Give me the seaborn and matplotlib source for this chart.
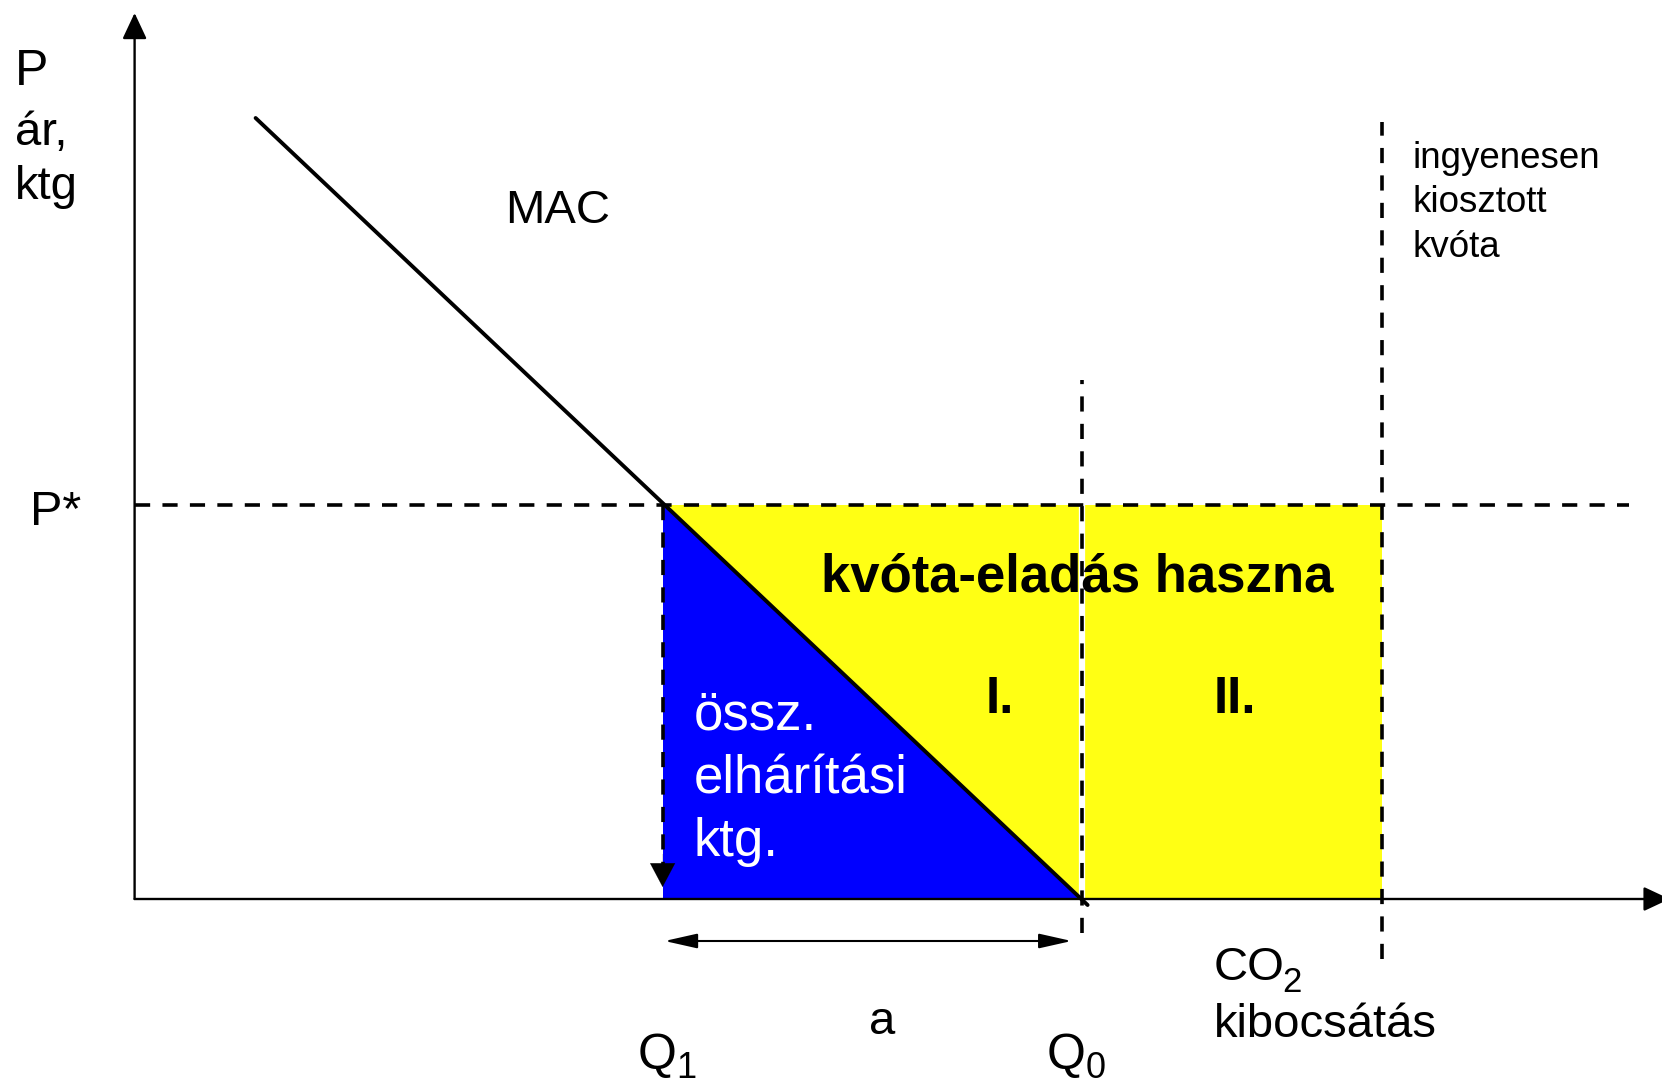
import matplotlib
matplotlib.use("Agg")
import matplotlib.pyplot as plt
import seaborn as sns

# CO2 kibocsátás (x) és ár / költség (y) egységei, origó a tengelyek metszéspontja
Q1 = 5.28
Q0 = 9.47
Q_FREE = 12.47
P_STAR = 3.94
X_MAX = 15.27
Y_MAX = 8.86

# MAC görbe végpontjai
mac_x = [1.21, 9.53]
mac_y = [7.81, -0.06]

BLUE = "#0000FF"
YELLOW = "#FFFF14"
FONT = "Liberation Sans"

sns.set_theme(style="white")
plt.rcParams["font.family"] = [FONT, "DejaVu Sans"]

fig = plt.figure(figsize=(16.62, 10.86), dpi=100)
ax = fig.add_axes([0, 0, 1, 1])
ax.set_xlim(-1.346, 15.274)
ax.set_ylim(-1.87, 8.99)
ax.axis("off")

# területek
ax.fill([Q1, Q_FREE, Q_FREE, Q0], [P_STAR, P_STAR, 0, 0], color=YELLOW, lw=0, zorder=1)
ax.fill([Q1, Q1, Q0], [P_STAR, 0, 0], color=BLUE, lw=0, zorder=2)

dash = (0, (4.2, 3.4))
lw_d = 2.6

# P* szaggatott vonal
ax.plot([0, 14.94], [P_STAR, P_STAR], color="black", lw=lw_d, ls=dash, zorder=4)
# Q0 és ingyenes kvóta függőleges vonalai
ax.plot([Q0, Q0], [0, P_STAR], color="white", lw=4.5, zorder=3)
ax.plot([Q0, Q0], [-0.34, 5.19], color="black", lw=lw_d, ls=dash, zorder=4)
ax.plot([Q_FREE, Q_FREE], [-0.60, 7.77], color="black", lw=lw_d, ls=dash, zorder=4)
# Q1 lefelé mutató nyíl
ax.plot([Q1, Q1], [P_STAR, 0.35], color="black", lw=lw_d, ls=dash, zorder=4)
ax.annotate("", xy=(Q1, 0.12), xytext=(Q1, 0.45),
            arrowprops=dict(arrowstyle="-|>,head_length=1.7,head_width=0.9",
                            mutation_scale=10, color="black", lw=0.1,
                            shrinkA=0, shrinkB=0), zorder=5)

# MAC
sns.lineplot(x=mac_x, y=mac_y, ax=ax, color="black", lw=2.8, zorder=5)

# tengelyek
ax.annotate("", xy=(0, Y_MAX), xytext=(0, 0), annotation_clip=False,
            arrowprops=dict(arrowstyle="-|>,head_length=1.6,head_width=0.75",
                            mutation_scale=10, color="black", lw=1.7,
                            shrinkA=0, shrinkB=0), zorder=6)
ax.annotate("", xy=(X_MAX + 0.08, 0), xytext=(0, 0), annotation_clip=False,
            arrowprops=dict(arrowstyle="-|>,head_length=1.6,head_width=0.75",
                            mutation_scale=10, color="black", lw=1.7,
                            shrinkA=0, shrinkB=0), zorder=6)

# "a" távolság nyíl
ax.annotate("", xy=(9.37, -0.42), xytext=(5.30, -0.42),
            arrowprops=dict(arrowstyle="<|-|>,head_length=2.0,head_width=0.45",
                            mutation_scale=10, color="black", lw=1.5,
                            shrinkA=0, shrinkB=0), zorder=6)

# feliratok
kw = dict(va="baseline", ha="left", color="black")
ax.text(-1.20, 8.14, "P", fontsize=36, **kw)
ax.text(-1.20, 7.54, "ár,", fontsize=34, **kw)
ax.text(-1.20, 7.00, "ktg", fontsize=34, **kw)
ax.text(3.71, 6.76, "MAC", fontsize=34, **kw)
ax.text(-1.05, 3.74, "P*", fontsize=35, **kw)
ax.text(6.86, 3.08, "kvóta-eladás haszna", fontsize=38, fontweight="bold",
        zorder=7, **kw)
ax.text(8.51, 1.86, "I.", fontsize=37, fontweight="bold", **kw)
ax.text(10.79, 1.86, "II.", fontsize=37, fontweight="bold", **kw)

wkw = dict(va="baseline", ha="left", color="white", fontsize=38, zorder=7)
ax.text(5.59, 1.70, "össz.", **wkw)
ax.text(5.59, 1.06, "elhárítási", **wkw)
ax.text(5.59, 0.43, "ktg.", **wkw)

ax.text(12.78, 7.31, "ingyenesen", fontsize=26.5, **kw)
ax.text(12.78, 6.87, "kiosztott", fontsize=26.5, **kw)
ax.text(12.78, 6.42, "kvóta", fontsize=26.5, **kw)

# Q1, Q0 és CO2 alsó indexszel
ax.text(5.03, -1.70, "Q", fontsize=36, **kw)
ax.text(5.42, -1.79, "1", fontsize=26, **kw)
ax.text(7.34, -1.35, "a", fontsize=34, **kw)
ax.text(9.12, -1.70, "Q", fontsize=36, **kw)
ax.text(9.51, -1.79, "0", fontsize=26, **kw)
ax.text(10.79, -0.81, "CO", fontsize=34, **kw)
ax.text(11.48, -0.93, "2", fontsize=25, **kw)
ax.text(10.79, -1.38, "kibocsátás", fontsize=34, **kw)

fig.savefig("out.png", dpi=100)
plt.close(fig)
